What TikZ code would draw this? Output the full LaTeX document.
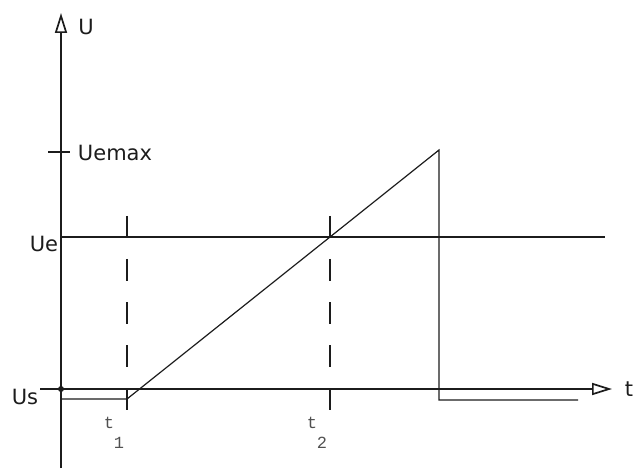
\documentclass[tikz,border=0pt]{standalone}
\usepackage{fontspec}
\setmainfont{DejaVu Sans}
\newfontfamily\plotmono{Liberation Mono}
\usetikzlibrary{arrows.meta,positioning,calc}
\definecolor{ink}{HTML}{1C1C1C}
\definecolor{mute}{HTML}{505050}

\tikzset{
  axis/.style={draw=ink,line width=1.2pt,-{Triangle[open,length=20pt,width=12pt,line width=1.7pt]}},
  trace/.style={draw=ink,line width=1.2pt},
  marker/.style={draw=ink,line width=1.2pt,dash pattern=on 22pt off 21pt},
  lbl/.style={inner sep=0pt,text=ink,font=\fontsize{21}{24}\selectfont},
  tlbl/.style={inner sep=0pt,text=mute,font=\plotmono\fontsize{17}{18}\selectfont}
}

\begin{document}
\begin{tikzpicture}[x=1pt,y=-1pt]
\useasboundingbox (0,0) rectangle (634,470);
% axes
\coordinate (O) at (61,389);
\coordinate (ybot) at (61,468);
\coordinate (ytop) at (61,13);
\coordinate (xleft) at (40,389);
\coordinate (xright) at (612,389);
\draw[axis] (ybot) -- (ytop);
\draw[axis] (xleft) -- (xright);
\fill[ink] (O) circle (3);
\node[lbl] (U) at (86,27) {U};
\node[lbl] (t) at (629,389) {t};
\node[lbl] (Us) at (25,397) {Us};
% levels
\coordinate (ue0) at (61,237);
\coordinate (ue1) at (605,237);
\draw[trace] (ue0) -- (ue1);
\node[lbl] (Ue) at (44,244) {Ue};
\coordinate (um0) at (48,152);
\coordinate (um1) at (70,152);
\draw[trace] (um0) -- (um1);
\node[lbl] (Uemax) at (115,153) {Uemax};
% signal
\coordinate (s0) at (61,399);
\coordinate (s1) at (127,399);
\coordinate (peak) at (439,150);
\coordinate (drop) at (439,400);
\coordinate (s2) at (578,400);
\draw[trace] (s0) -- (s1) -- (peak) -- (drop) -- (s2);
% t1, t2
\foreach \n/\x/\k in {1/127/1,2/330/2}{
  \coordinate (m\n a) at (\x,216);
  \coordinate (m\n b) at (\x,410);
  \draw[marker] (m\n a) -- (m\n b);
  \node[tlbl] (t\n) at (\x-18,423) {t};
  \node[tlbl] (k\n) at (\x-8,443) {\k};
}
\end{tikzpicture}
\end{document}
